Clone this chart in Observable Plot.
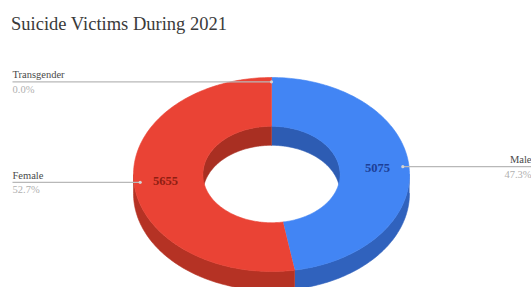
<!DOCTYPE html>
<html><head><meta charset="utf-8">
<script src="https://cdn.jsdelivr.net/npm/d3@7"></script>
<script src="https://cdn.jsdelivr.net/npm/@observablehq/plot@0.6"></script>
<style>
body{margin:0;background:#fff;overflow:hidden;}
#title{position:relative;height:45px;width:531px;}
#title span{position:absolute;left:11px;top:14px;font:18.5px/20px "Liberation Serif","Times New Roman","DejaVu Serif",serif;color:#3a3a3a;white-space:nowrap;}
</style></head><body>
<div id="title"><span>Suicide Victims During 2021</span></div>
<div id="chart"></div>
<script>
// ---- data ----
const categories = ["Male", "Female", "Transgender"];
const values = [5075, 5655, 0];
const topColors = ["#4285f4", "#ea4335", "#fbbc04"];
const sideColors = ["#3062bd", "#b53224", "#c99503"];
const innerColors = ["#2d5cb3", "#a92f22", "#b88802"];
const valueColors = ["#1d3f96", "#8f1e12", "#7a5a00"];

// ---- layout ----
const W = 531, H = 242;
const RX = 138, K = 97 / 138, RIN = 0.497, DEPTH = 19;
const total = d3.sum(values);
const pct = d3.format(".1%");

const P = (t, r, z) => ({x: r * Math.sin(t), y: r * Math.cos(t) * K + z});
function arc(a0, a1, r, z) {
  const n = Math.max(2, Math.ceil(Math.abs(a1 - a0) / (Math.PI / 180)));
  return d3.range(n + 1).map(i => P(a0 + (a1 - a0) * i / n, r, z));
}

const arcs = d3.pie().sort(null).startAngle(0).endAngle(2 * Math.PI)(values);

const walls = [], inner = [], tops = [];
arcs.forEach((a, i) => {
  if (a.value <= 0) return;
  // outer front wall
  const lo = Math.max(a.startAngle, Math.PI / 2), hi = Math.min(a.endAngle, 3 * Math.PI / 2);
  if (hi > lo) {
    [...arc(lo, hi, RX, 0), ...arc(hi, lo, RX, -DEPTH)]
      .forEach(p => walls.push({...p, id: "w" + i, fill: sideColors[i]}));
  }
  // inner back wall
  [[0, Math.PI / 2], [3 * Math.PI / 2, 2 * Math.PI]].forEach(([b0, b1], j) => {
    const l = Math.max(a.startAngle, b0), h = Math.min(a.endAngle, b1);
    if (h > l) {
      [...arc(l, h, RX * RIN, 0), ...arc(h, l, RX * RIN, -DEPTH)]
        .forEach(p => inner.push({...p, id: "i" + i + "_" + j, fill: innerColors[i]}));
    }
  });
  // top face
  [...arc(a.startAngle, a.endAngle, RX, 0), ...arc(a.endAngle, a.startAngle, RX * RIN, 0)]
    .forEach(p => tops.push({...p, id: "t" + i, fill: topColors[i]}));
});

const leaders = arcs.map((a, i) => {
  const mid = (a.startAngle + a.endAngle) / 2;
  const anchor = P(mid, RX * 0.955, 0);
  const lab = P(mid, RX * 0.77, 0);
  const right = Math.sin(mid) > 0.01;
  return {
    name: categories[i], pct: pct(values[i] / total), value: values[i] > 0 ? String(values[i]) : "",
    ax: anchor.x, ay: anchor.y, ex: right ? 260 : -259,
    lx: lab.x, ly: lab.y, right, vcolor: valueColors[i]
  };
});
const L = leaders.filter(d => !d.right), R = leaders.filter(d => d.right);

const font = "'Liberation Serif', 'Times New Roman', 'DejaVu Serif', serif";
const chart = Plot.plot({
  width: W, height: H, margin: 0,
  x: {domain: [-271, 260], axis: null},
  y: {domain: [-113, 129], axis: null},
  color: {type: "identity"},
  style: {fontFamily: font, background: "transparent"},
  marks: [
    Plot.line(walls, {x: "x", y: "y", z: "id", fill: "fill", stroke: "fill", strokeWidth: 0.6, curve: "linear"}),
    Plot.line(inner, {x: "x", y: "y", z: "id", fill: "fill", stroke: "fill", strokeWidth: 0.6, curve: "linear"}),
    Plot.line(tops, {x: "x", y: "y", z: "id", fill: "fill", stroke: "fill", strokeWidth: 0.6, curve: "linear"}),
    Plot.link(leaders, {x1: "ex", y1: "ay", x2: "ax", y2: "ay", stroke: "#b8b8b8", strokeWidth: 1.3}),
    Plot.dot(leaders, {x: "ax", y: "ay", r: 1.6, fill: "#d4d4d4", stroke: "none"}),
    Plot.text(L, {x: "ex", y: "ay", text: "name", textAnchor: "start", lineAnchor: "bottom", dy: -3.5, fontSize: 10.5, fontFamily: font, fill: "#4a4a4a"}),
    Plot.text(L, {x: "ex", y: "ay", text: "pct", textAnchor: "start", lineAnchor: "bottom", dy: 11, fontSize: 10.5, fontFamily: font, fill: "#b0b0b0"}),
    Plot.text(R, {x: "ex", y: "ay", text: "name", textAnchor: "end", lineAnchor: "bottom", dy: -3.5, fontSize: 10.5, fontFamily: font, fill: "#4a4a4a"}),
    Plot.text(R, {x: "ex", y: "ay", text: "pct", textAnchor: "end", lineAnchor: "bottom", dy: 11, fontSize: 10.5, fontFamily: font, fill: "#b0b0b0"}),
    Plot.text(leaders, {x: "lx", y: "ly", text: "value", fill: "vcolor", fontSize: 12.5, fontFamily: font, fontWeight: "bold", textAnchor: "middle", lineAnchor: "middle"})
  ]
});
document.getElementById("chart").appendChild(chart);
</script>
</body></html>
